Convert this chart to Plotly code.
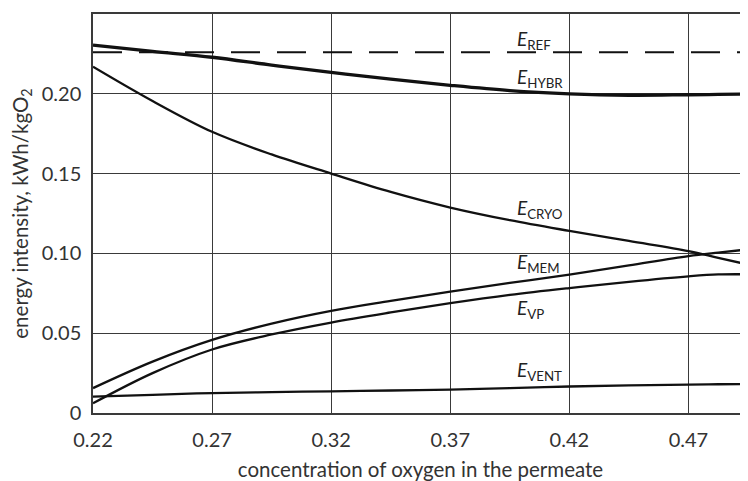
import plotly.graph_objects as go

x_pts = [0.22, 0.245, 0.27, 0.295, 0.32, 0.345, 0.37, 0.395, 0.42, 0.445, 0.47, 0.4825, 0.495]

e_ref = [0.2261] * len(x_pts)
e_hybr = [0.2305, 0.2266, 0.2229, 0.2180, 0.2134, 0.2092, 0.2053, 0.2020, 0.2000, 0.1991, 0.1994, 0.1996, 0.1998]
e_cryo = [0.2170, 0.1955, 0.1762, 0.1620, 0.1500, 0.1385, 0.1287, 0.1208, 0.1141, 0.1078, 0.1015, 0.0972, 0.0930]
e_mem = [0.0156, 0.0322, 0.0458, 0.0560, 0.0640, 0.0702, 0.0761, 0.0815, 0.0867, 0.0925, 0.0983, 0.1005, 0.1025]
e_vp = [0.0061, 0.0250, 0.0398, 0.0492, 0.0567, 0.0630, 0.0688, 0.0740, 0.0783, 0.0822, 0.0856, 0.0868, 0.0869]
e_vent = [0.0103, 0.0114, 0.0125, 0.0131, 0.0136, 0.0141, 0.0146, 0.0156, 0.0166, 0.0173, 0.0178, 0.0180, 0.0182]

x_ticks = [0.22, 0.27, 0.32, 0.37, 0.42, 0.47]
x_tick_labels = ["0.22", "0.27", "0.32", "0.37", "0.42", "0.47"]
y_ticks = [0, 0.05, 0.10, 0.15, 0.20, 0.25]
y_tick_labels = ["0", "0.05", "0.10", "0.15", "0.20", "0.25"]

labels = [
    ("<i>E</i><sub>REF</sub>", 0.3970, 0.2335),
    ("<i>E</i><sub>HYBR</sub>", 0.3970, 0.2098),
    ("<i>E</i><sub>CRYO</sub>", 0.3970, 0.1276),
    ("<i>E</i><sub>MEM</sub>", 0.3970, 0.0938),
    ("<i>E</i><sub>VP</sub>", 0.3970, 0.0650),
    ("<i>E</i><sub>VENT</sub>", 0.3970, 0.0262),
]

FONT = "Lato, 'Open Sans', sans-serif"
LINE = "#111111"

fig = go.Figure()
fig.add_trace(go.Scatter(x=x_pts, y=e_ref, mode="lines",
                         line=dict(color=LINE, width=2, dash="29px,17px"), hoverinfo="skip"))
fig.add_trace(go.Scatter(x=x_pts, y=e_hybr, mode="lines", line_shape="spline",
                         line=dict(color=LINE, width=3.3), hoverinfo="skip"))
for ys in (e_cryo, e_mem, e_vp, e_vent):
    fig.add_trace(go.Scatter(x=x_pts, y=ys, mode="lines", line_shape="spline",
                             line=dict(color=LINE, width=2.3), hoverinfo="skip"))

for txt, xx, yy in labels:
    fig.add_annotation(x=xx, y=yy, text=txt, showarrow=False, xanchor="left", yanchor="middle",
                       font=dict(family=FONT, size=19, color="#222222"))

fig.update_layout(
    width=740, height=473,
    margin=dict(l=85, r=0, t=6, b=68, autoexpand=False),
    paper_bgcolor="white", plot_bgcolor="white",
    showlegend=False,
    font=dict(family=FONT, size=20, color="#333333"),
)
fig.update_xaxes(range=[0.22, 0.495], tickvals=x_ticks, ticktext=x_tick_labels,
                 showgrid=True, gridcolor="#3a3a3a", gridwidth=1.2,
                 showline=True, linecolor="#3a3a3a", linewidth=1.5, mirror=True,
                 ticks="", zeroline=False, ticklabelstandoff=8,
                 tickfont=dict(size=20), automargin=False,
                 title=dict(text="concentration of oxygen in the permeate", font=dict(size=20.5), standoff=21))
fig.update_yaxes(range=[0, 0.25], tickvals=y_ticks, ticktext=y_tick_labels,
                 showgrid=True, gridcolor="#3a3a3a", gridwidth=1.2,
                 showline=True, linecolor="#3a3a3a", linewidth=1.5, mirror=False,
                 ticks="", zeroline=False, ticklabelstandoff=6,
                 tickfont=dict(size=20), automargin=False,
                 title=dict(text="energy intensity, kWh/kgO<sub>2</sub>", font=dict(size=20.5), standoff=8))

fig.write_html("out.html")
